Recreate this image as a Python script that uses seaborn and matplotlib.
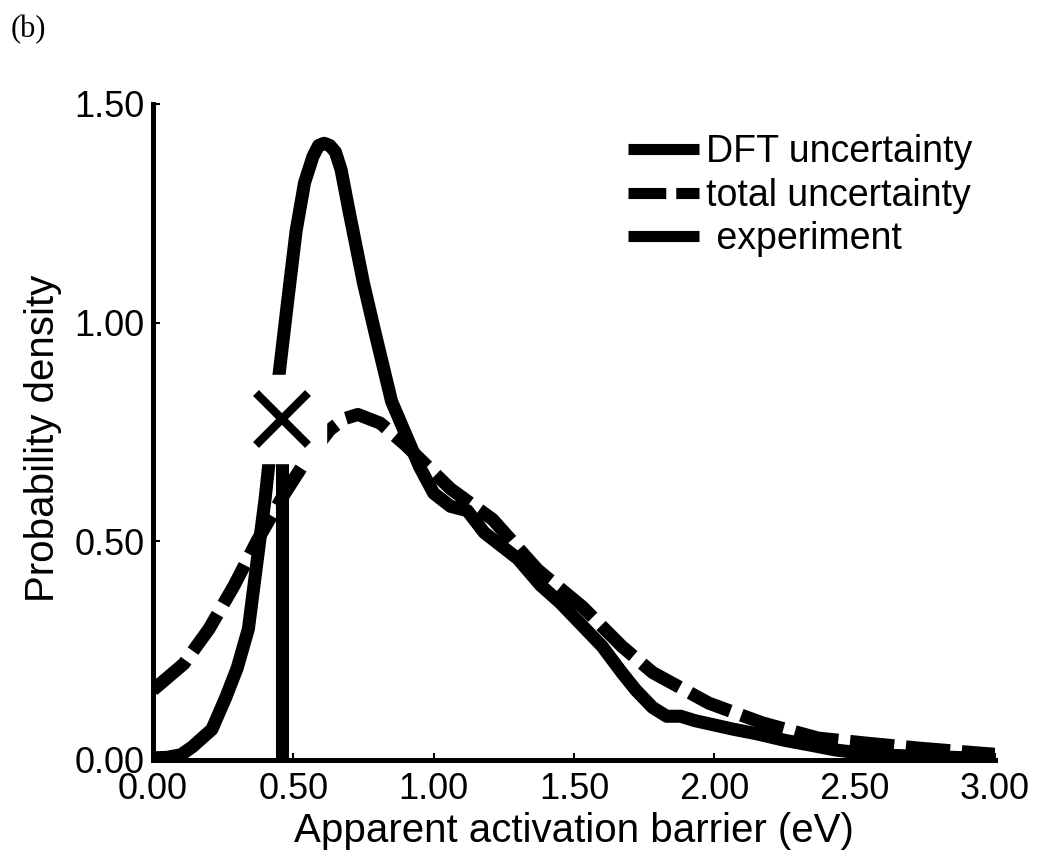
import matplotlib
matplotlib.use("Agg")
import matplotlib.pyplot as plt
import seaborn as sns
import pandas as pd

# ---- data ----
dft_x = [0.00, 0.05, 0.10, 0.14, 0.21, 0.26, 0.30, 0.34, 0.37, 0.40, 0.42, 0.45, 0.48, 0.51,
         0.54, 0.57, 0.59, 0.61, 0.63, 0.65, 0.67, 0.70, 0.75, 0.79, 0.85, 0.90, 0.95, 1.00,
         1.06, 1.12, 1.18, 1.30, 1.38, 1.45, 1.51, 1.60, 1.67, 1.72, 1.78, 1.83, 1.88, 1.93,
         2.00, 2.07, 2.15, 2.25, 2.35, 2.43, 2.52, 2.61, 2.75, 2.90, 3.00]
dft_y = [0.005, 0.006, 0.012, 0.03, 0.07, 0.144, 0.21, 0.30, 0.45, 0.60, 0.72, 0.886, 1.05, 1.21,
         1.32, 1.38, 1.405, 1.41, 1.405, 1.39, 1.35, 1.25, 1.09, 0.98, 0.82, 0.745, 0.67, 0.61,
         0.58, 0.57, 0.52, 0.46, 0.40, 0.36, 0.32, 0.26, 0.20, 0.16, 0.12, 0.10, 0.10, 0.09,
         0.08, 0.07, 0.06, 0.045, 0.033, 0.023, 0.016, 0.011, 0.008, 0.005, 0.004]
tot_x = [0.00, 0.11, 0.20, 0.29, 0.37, 0.46, 0.54, 0.63, 0.68, 0.73, 0.81, 0.90, 1.06, 1.21,
         1.37, 1.53, 1.67, 1.78, 1.98, 2.17, 2.37, 2.55, 2.73, 2.96, 3.00]
tot_y = [0.16, 0.22, 0.30, 0.40, 0.50, 0.60, 0.68, 0.755, 0.78, 0.79, 0.77, 0.72, 0.62, 0.55,
         0.435, 0.35, 0.26, 0.20, 0.13, 0.085, 0.05, 0.038, 0.027, 0.015, 0.013]
exp_x = [0.46, 0.46]
exp_y = [0.0, 0.78]

x_ticks = [0.0, 0.5, 1.0, 1.5, 2.0, 2.5, 3.0]
y_ticks = [0.0, 0.5, 1.0, 1.5]

sns.set_theme(style="white")
plt.rcParams['font.family'] = ['Liberation Sans', 'DejaVu Sans']
plt.rcParams['text.color'] = 'black'
plt.rcParams['axes.labelcolor'] = 'black'

fig = plt.figure(figsize=(10.42, 8.52), dpi=100)
ax = fig.add_axes([0.1468, 0.108, 0.8082, 0.770])

lw = 9.4
df_dft = pd.DataFrame({"x": dft_x, "y": dft_y})
df_tot = pd.DataFrame({"x": tot_x, "y": tot_y})
df_exp = pd.DataFrame({"x": exp_x, "y": exp_y})

sns.lineplot(data=df_dft, x="x", y="y", ax=ax, color="black", lw=lw, sort=False,
             estimator=None, label="DFT uncertainty", zorder=3)
sns.lineplot(data=df_tot, x="x", y="y", ax=ax, color="black", lw=lw, sort=False,
             estimator=None, label="total uncertainty", zorder=3)
ax.lines[-1].set_dashes((3.4, 0.9))
sns.lineplot(data=df_exp, x="x", y="y", ax=ax, color="black", lw=lw, sort=False,
             estimator=None, label=" experiment", zorder=4)
ax.lines[-1].set_solid_capstyle("butt")
# marker at the top of experiment line: white box with a cross
ax.plot([exp_x[1]], [exp_y[1]], marker="s", ms=63, mfc="white", mec="white", ls="none", zorder=5)
ax.plot([exp_x[1]], [exp_y[1]], marker="x", ms=38, mew=6, color="black", ls="none", zorder=6)

ax.set_xlim(0, 3.0)
ax.set_ylim(0, 1.5)
ax.set_xticks(x_ticks)
ax.set_yticks(y_ticks)
ax.set_xticklabels([f"{v:.2f}" for v in x_ticks])
ax.set_yticklabels([f"{v:.2f}" for v in y_ticks])
ax.tick_params(axis="both", direction="in", length=5, width=1.5, labelsize=26,
               colors="black", left=True, bottom=True)
ax.tick_params(axis="y", pad=6)
ax.tick_params(axis="x", pad=9)

for s in ["top", "right"]:
    ax.spines[s].set_visible(False)
for s in ["left", "bottom"]:
    ax.spines[s].set_linewidth(3.6)
    ax.spines[s].set_color("black")

ax.set_xlabel("Apparent activation barrier (eV)", fontsize=29, color="black", labelpad=3)
ax.set_ylabel("Probability density", fontsize=29, color="black")
ax.yaxis.set_label_coords(-0.108, 0.49)

leg = ax.legend(loc="upper right", bbox_to_anchor=(1.0, 0.988), frameon=False, fontsize=27,
                handlelength=1.9, handletextpad=0.2, labelspacing=0.2, borderaxespad=0.2,
                labelcolor="black")
for h in leg.get_lines():
    h.set_linewidth(8)
    h.set_solid_capstyle("butt")

fig.text(0.010, 0.965, "(b)", fontsize=22, family="Liberation Serif", color="black", va="center")

fig.savefig("out.png", dpi=100)
